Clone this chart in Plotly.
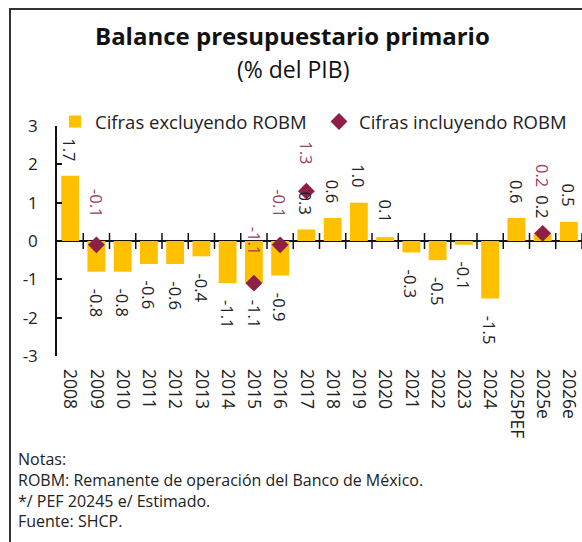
import plotly.graph_objects as go

# ---- data ----
categories = ["2008", "2009", "2010", "2011", "2012", "2013", "2014", "2015", "2016",
              "2017", "2018", "2019", "2020", "2021", "2022", "2023", "2024",
              "2025PEF", "2025e", "2026e"]
excl_robm = [1.7, -0.8, -0.8, -0.6, -0.6, -0.4, -1.1, -1.1, -0.9,
             0.3, 0.6, 1.0, 0.1, -0.3, -0.5, -0.1, -1.5,
             0.6, 0.2, 0.5]
incl_categories = ["2009", "2015", "2016", "2017", "2025e"]
incl_robm = [-0.1, -1.1, -0.1, 1.3, 0.2]
y_ticks = [3, 2, 1, 0, -1, -2, -3]
series_names = ["Cifras excluyendo ROBM", "Cifras incluyendo ROBM"]
title_text = "Balance presupuestario primario"
subtitle_text = "(% del PIB)"
notes = ["Notas:",
         "ROBM: Remanente de operación del Banco de México.",
         "*/ PEF 20245 e/ Estimado.",
         "Fuente: SHCP."]

# ---- styles ----
GOLD = "#FFC000"
MAROON = "#8C2046"
MAROON_TXT = "#A0405F"
FONT = "Open Sans"
TXT = "#222222"
LABEL_SIZE = 16.5

W, H = 582, 542
ML, MR, MT, MB = 57, 0, 126, 186
Y_RANGE = [-3, 3]

idx = {c: i for i, c in enumerate(categories)}
x_excl = [idx[c] for c in categories]
x_incl = [idx[c] for c in incl_categories]
bar_by_x = dict(zip(x_excl, excl_robm))

fig = go.Figure()
fig.add_trace(go.Bar(
    x=x_excl, y=excl_robm, name=series_names[0],
    marker=dict(color=GOLD, line=dict(width=0)), width=0.68,
))
fig.add_trace(go.Scatter(
    x=x_incl, y=incl_robm, name=series_names[1], mode="markers",
    marker=dict(symbol="diamond", size=13, color=MAROON),
))

pw = W - ML - MR
ph = H - MT - MB
px_per_unit = ph / (Y_RANGE[1] - Y_RANGE[0])

def px_x(p):
    return (p - ML) / pw
def px_y(p):
    return (H - MB - p) / ph
def label_len(s):
    return len(s) * 0.55 * LABEL_SIZE

BAR_GAP_POS, BAR_GAP_NEG, DIA_GAP = 13, 15, 25

annotations = []
# bar value labels
for xi, v in zip(x_excl, excl_robm):
    annotations.append(dict(
        x=xi, y=v, xref="x", yref="y", text=f"{v:.1f}", showarrow=False,
        textangle=90, yanchor="bottom" if v >= 0 else "top",
        yshift=BAR_GAP_POS if v >= 0 else -BAR_GAP_NEG,
        font=dict(family=FONT, size=LABEL_SIZE, color=TXT),
    ))
# diamond value labels (pushed above the bar label if they would collide)
for xi, v in zip(x_incl, incl_robm):
    shift = DIA_GAP
    bv = bar_by_x.get(xi)
    if bv is not None and bv >= 0:
        bar_lbl_top = bv * px_per_unit + BAR_GAP_POS + label_len(f"{bv:.1f}")
        dia_lbl_bottom = v * px_per_unit + DIA_GAP
        if dia_lbl_bottom < bar_lbl_top and v * px_per_unit < bar_lbl_top:
            shift = bar_lbl_top - v * px_per_unit + 4
    annotations.append(dict(
        x=xi, y=v, xref="x", yref="y", text=f"{v:.1f}", showarrow=False,
        textangle=90, yanchor="bottom", yshift=shift,
        font=dict(family=FONT, size=LABEL_SIZE, color=MAROON_TXT),
    ))

# titles
annotations.append(dict(
    text=f"<b>{title_text}</b>", xref="paper", yref="paper",
    x=px_x(292), y=px_y(35), showarrow=False, xanchor="center", yanchor="middle",
    font=dict(family=FONT, size=24, color="#111111"),
))
annotations.append(dict(
    text=subtitle_text, xref="paper", yref="paper",
    x=px_x(293), y=px_y(69), showarrow=False, xanchor="center", yanchor="middle",
    font=dict(family=FONT, size=23, color="#111111"),
))
# notes
annotations.append(dict(
    text="<br>".join(notes), xref="paper", yref="paper",
    x=px_x(16), y=px_y(446), showarrow=False, xanchor="left", yanchor="top",
    align="left", font=dict(family=FONT, size=16, color=TXT),
))

shapes = []
# ticks on the zero line at category boundaries
for i in range(len(categories)):
    shapes.append(dict(
        type="line", xref="x", yref="y", x0=i + 0.5, x1=i + 0.5,
        ysizemode="pixel", yanchor=0, y0=-8, y1=8,
        line=dict(color="#111111", width=1.5),
    ))
# frame
shapes.append(dict(
    type="rect", xref="paper", yref="paper",
    x0=px_x(10), x1=px_x(600), y0=px_y(600), y1=px_y(9),
    line=dict(color="#333333", width=2), fillcolor="rgba(0,0,0,0)", layer="below",
))

fig.update_layout(
    width=W, height=H,
    margin=dict(l=ML, r=MR, t=MT, b=MB, autoexpand=False),
    paper_bgcolor="white", plot_bgcolor="white",
    showlegend=True,
    legend=dict(
        orientation="h", x=px_x(55), y=px_y(122), xanchor="left", yanchor="middle",
        font=dict(family=FONT, size=18.5, color=TXT), bgcolor="rgba(0,0,0,0)",
        entrywidth=219, entrywidthmode="pixels",
    ),
    font=dict(family=FONT, size=15, color=TXT),
    xaxis=dict(
        range=[-0.5, len(categories) - 0.5], automargin=False,
        tickmode="array", tickvals=x_excl, ticktext=categories,
        tickangle=90, showline=False, ticks="", showgrid=False, zeroline=False,
        ticklabelstandoff=12, ticklabeloverflow="allow",
        tickfont=dict(family=FONT, size=17.5, color=TXT),
    ),
    yaxis=dict(
        range=Y_RANGE, automargin=False, tickmode="array", tickvals=y_ticks,
        ticktext=[str(v) for v in y_ticks],
        showline=True, linecolor="#111111", linewidth=1.5,
        ticks="inside", ticklen=5, tickcolor="#111111", tickwidth=1.5,
        showgrid=False, zeroline=True, zerolinecolor="#111111", zerolinewidth=1.5,
        ticklabelstandoff=14,
        tickfont=dict(family=FONT, size=17, color=TXT),
    ),
    annotations=annotations,
    shapes=shapes,
)

fig.write_html(
    "out.html",
    config={"displayModeBar": False},
    post_script="document.body.style.margin='0px';document.body.style.overflow='hidden';",
)
